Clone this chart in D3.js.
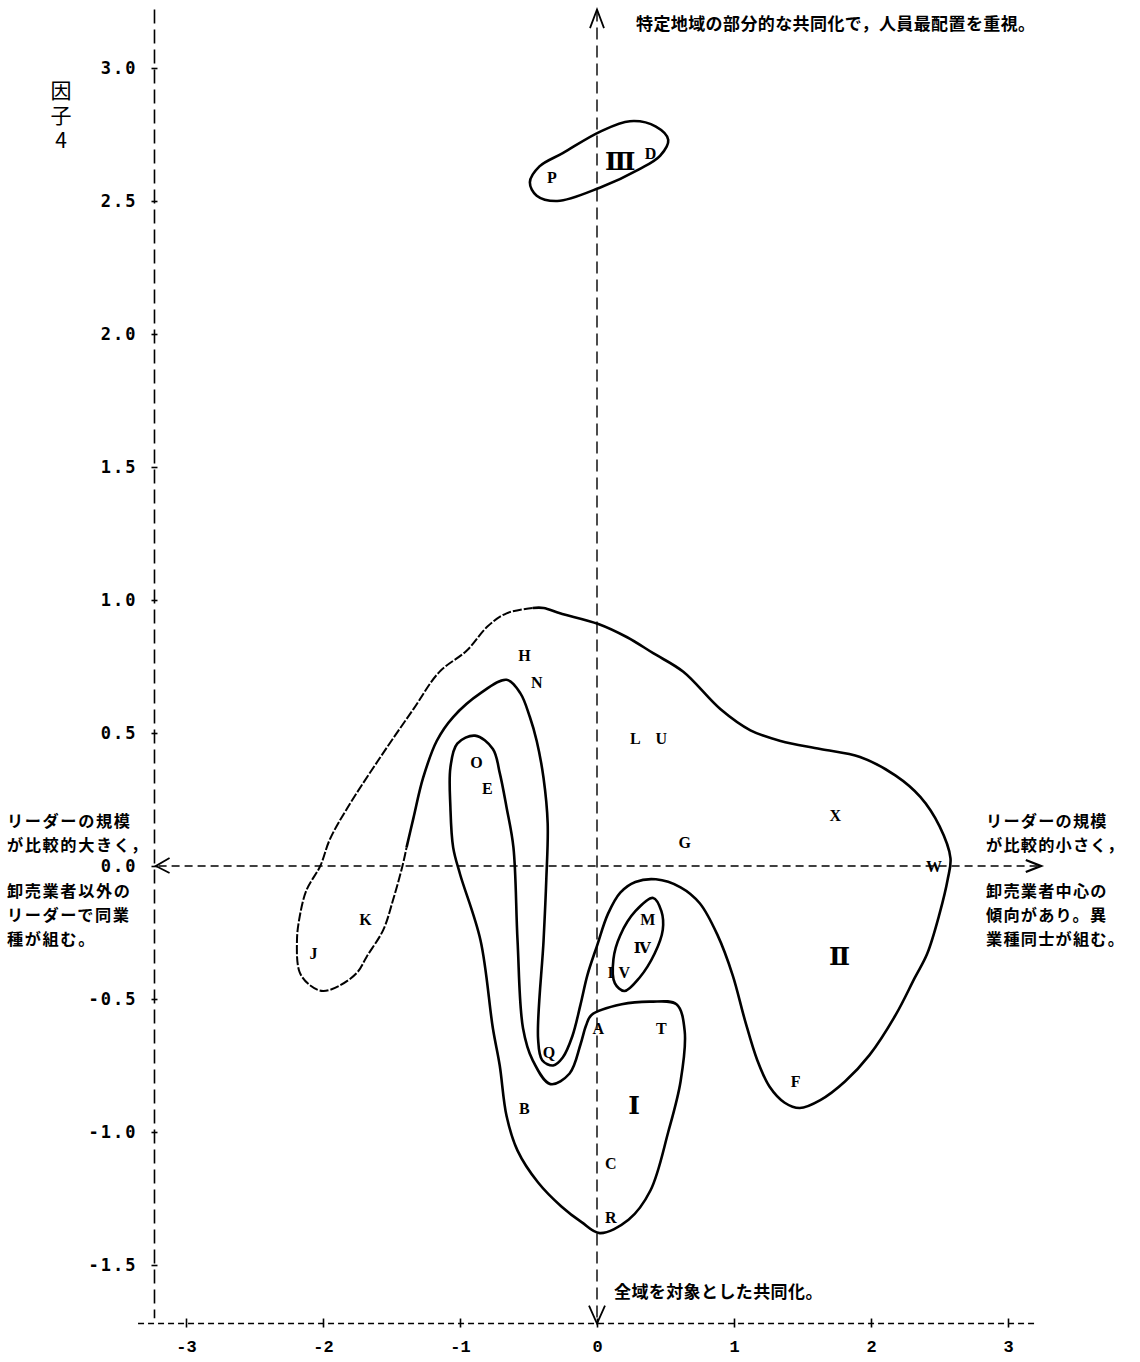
<!DOCTYPE html>
<html>
<head>
<meta charset="utf-8">
<script src="https://cdn.jsdelivr.net/npm/d3@7"></script>
<style>
  body { margin: 0; background: #fff; }
</style>
</head>
<body>
<script>
// tick values
let xTicks = [-3, -2, -1, 0, 1, 2, 3];
let yTicks = [-1.5, -1.0, -0.5, 0.0, 0.5, 1.0, 1.5, 2.0, 2.5, 3.0];

// scored firms (factor 1 score on x, factor 4 score on y)
let pointLabels = ["P","D","H","N","L","U","O","E","X","G","W","K","M","I","V","J","A","T","Q","F","B","C","R"];
let pointX = [-0.33, 0.39, -0.53, -0.44, 0.28, 0.47, -0.88, -0.80, 1.74, 0.64, 2.46, -1.69, 0.37, 0.10, 0.20, -2.07, 0.01, 0.47, -0.35, 1.45, -0.53, 0.10, 0.10];
let pointY = [2.59, 2.68, 0.79, 0.69, 0.48, 0.48, 0.39, 0.29, 0.19, 0.09, 0.00, -0.20, -0.20, -0.40, -0.40, -0.33, -0.61, -0.61, -0.70, -0.81, -0.91, -1.12, -1.32];

// cluster names and where they sit
let groupNames = ["Ⅰ", "Ⅱ", "Ⅲ", "Ⅳ"];
let groupX = [0.27, 1.77, 0.17, 0.33];
let groupY = [-0.90, -0.34, 2.65, -0.31];

// hand drawn cluster outlines
let group3 = [[-0.49,2.57],[-0.44,2.52],[-0.29,2.50],[0.02,2.55],[0.31,2.62],[0.46,2.67],[0.52,2.73],[0.43,2.78],[0.24,2.80],[0.02,2.76],[-0.25,2.68],[-0.42,2.63]];
let group4 = [[0.41,-0.12],[0.47,-0.17],[0.48,-0.24],[0.42,-0.33],[0.31,-0.42],[0.20,-0.47],[0.13,-0.44],[0.12,-0.35],[0.17,-0.26],[0.28,-0.17]];
let group1 = [[-0.89,0.49],[-0.76,0.44],[-0.71,0.35],[-0.66,0.22],[-0.61,0.07],[-0.58,-0.28],[-0.54,-0.61],[-0.47,-0.73],[-0.34,-0.82],[-0.20,-0.78],[-0.12,-0.67],[-0.08,-0.60],[-0.04,-0.56],[0.18,-0.52],[0.39,-0.51],[0.58,-0.52],[0.64,-0.62],[0.61,-0.81],[0.52,-1.00],[0.39,-1.22],[0.23,-1.33],[0.02,-1.38],[-0.11,-1.34],[-0.26,-1.28],[-0.43,-1.19],[-0.58,-1.07],[-0.66,-0.94],[-0.71,-0.75],[-0.76,-0.61],[-0.85,-0.28],[-1.00,-0.03],[-1.05,0.07],[-1.07,0.22],[-1.07,0.37],[-1.02,0.46]];
let group2Solid = [[-1.39,0.07],[-1.34,0.18],[-1.27,0.33],[-1.17,0.47],[-1.05,0.56],[-0.85,0.65],[-0.66,0.70],[-0.56,0.65],[-0.49,0.56],[-0.44,0.47],[-0.39,0.33],[-0.36,0.16],[-0.37,-0.05],[-0.39,-0.28],[-0.43,-0.65],[-0.40,-0.73],[-0.32,-0.75],[-0.25,-0.72],[-0.18,-0.64],[-0.12,-0.52],[-0.07,-0.41],[0.00,-0.30],[0.08,-0.18],[0.17,-0.10],[0.28,-0.06],[0.43,-0.05],[0.61,-0.08],[0.75,-0.14],[0.88,-0.26],[0.99,-0.41],[1.08,-0.58],[1.17,-0.73],[1.26,-0.83],[1.37,-0.89],[1.48,-0.91],[1.63,-0.88],[1.81,-0.81],[1.99,-0.71],[2.18,-0.56],[2.32,-0.42],[2.41,-0.33],[2.50,-0.18],[2.56,-0.05],[2.58,0.03],[2.50,0.15],[2.36,0.26],[2.18,0.34],[1.92,0.41],[1.63,0.44],[1.34,0.47],[1.12,0.51],[0.90,0.59],[0.63,0.73],[0.41,0.80],[0.22,0.86],[0.01,0.91],[-0.27,0.95],[-0.39,0.97],[-0.47,0.97]];
let group2Dashed = [[-0.47,0.97],[-0.66,0.95],[-0.80,0.90],[-0.95,0.81],[-1.15,0.73],[-1.34,0.59],[-1.58,0.41],[-1.82,0.22],[-1.95,0.10],[-2.02,0.00],[-2.12,-0.09],[-2.17,-0.19],[-2.19,-0.28],[-2.17,-0.40],[-2.09,-0.45],[-2.00,-0.47],[-1.88,-0.45],[-1.75,-0.40],[-1.68,-0.34],[-1.56,-0.24],[-1.49,-0.13],[-1.42,0.00],[-1.39,0.07]];

// notes
let yTitle = "因子4";
let topNote = "特定地域の部分的な共同化で，人員最配置を重視。";
let bottomNote = "全域を対象とした共同化。";
let leftNoteUp = ["リーダーの規模", "が比較的大きく，"];
let leftNoteDown = ["卸売業者以外の", "リーダーで同業", "種が組む。"];
let rightNoteUp = ["リーダーの規模", "が比較的小さく，"];
let rightNoteDown = ["卸売業者中心の", "傾向があり。異", "業種同士が組む。"];

let jpFont = "'Noto Sans CJK JP', sans-serif";

let x = d3.scaleLinear().domain([-3, 3]).range([186, 1008]);
let y = d3.scaleLinear().domain([-1.5, 3]).range([1265, 68]);

let svg = d3.select("body").append("svg")
      .attr("width", 1140)
      .attr("height", 1362);

// left axis
let leftX = x(-3.23);
svg.append("line")
      .attr("x1", leftX).attr("x2", leftX)
      .attr("y1", y(3.22)).attr("y2", y(-1.7))
      .attr("stroke", "#000")
      .attr("stroke-width", 1.6)
      .attr("stroke-dasharray", "14,6");

let yAxis = d3.axisLeft(y)
      .tickValues(yTicks)
      .tickFormat(d => d.toFixed(1))
      .tickSize(0)
      .tickPadding(17);

svg.append("g")
      .attr("class", "y axis")
      .attr("transform", "translate(" + leftX + ",0)")
      .call(yAxis)
      .call(g => g.select(".domain").remove())
      .call(g => g.selectAll(".tick line")
            .attr("x1", -3).attr("x2", 3)
            .attr("stroke", "#000").attr("stroke-width", 1.6))
      .call(g => g.selectAll(".tick text")
            .attr("fill", "#000")
            .attr("font-family", "'DejaVu Sans Mono', monospace")
            .attr("font-size", 17)
            .attr("font-weight", "bold")
            .attr("letter-spacing", 2));

// bottom axis
let bottomY = y(-1.72);
svg.append("line")
      .attr("x1", x(-3.35)).attr("x2", x(3.2))
      .attr("y1", bottomY).attr("y2", bottomY)
      .attr("stroke", "#000")
      .attr("stroke-width", 1.4)
      .attr("stroke-dasharray", "6,4");

let xAxis = d3.axisBottom(x)
      .tickValues(xTicks)
      .tickFormat(d => String(d))
      .tickSize(0)
      .tickPadding(16);

svg.append("g")
      .attr("class", "x axis")
      .attr("transform", "translate(0," + bottomY + ")")
      .call(xAxis)
      .call(g => g.select(".domain").remove())
      .call(g => g.selectAll(".tick line")
            .attr("y1", -5).attr("y2", 4)
            .attr("stroke", "#000").attr("stroke-width", 1.6))
      .call(g => g.selectAll(".tick text")
            .attr("fill", "#000")
            .attr("font-family", "'Liberation Mono', monospace")
            .attr("font-size", 17)
            .attr("font-weight", "bold"));

// zero lines
svg.append("line")
      .attr("x1", x(-3.2)).attr("x2", x(3.22))
      .attr("y1", y(0)).attr("y2", y(0))
      .attr("stroke", "#000")
      .attr("stroke-width", 1.4)
      .attr("stroke-dasharray", "8,5");

svg.append("line")
      .attr("x1", x(0)).attr("x2", x(0))
      .attr("y1", y(3.22)).attr("y2", bottomY)
      .attr("stroke", "#000")
      .attr("stroke-width", 1.4)
      .attr("stroke-dasharray", "12,6");

// arrow heads
let arrow = d3.line();
svg.append("path")
      .attr("d", arrow([[x(0) - 7, y(3.15)], [x(0), y(3.22)], [x(0) + 7, y(3.15)]]))
      .attr("fill", "none").attr("stroke", "#000").attr("stroke-width", 1.8);
svg.append("path")
      .attr("d", arrow([[x(0) - 8, bottomY - 18], [x(0), bottomY], [x(0) + 8, bottomY - 18]]))
      .attr("fill", "none").attr("stroke", "#000").attr("stroke-width", 1.8);
svg.append("path")
      .attr("d", arrow([[x(-3.12), y(0) - 8], [x(-3.22), y(0)], [x(-3.12), y(0) + 7]]))
      .attr("fill", "none").attr("stroke", "#000").attr("stroke-width", 1.8);
svg.append("path")
      .attr("d", arrow([[x(3.13), y(0) - 6], [x(3.24), y(0)], [x(3.13), y(0) + 6]]))
      .attr("fill", "none").attr("stroke", "#000").attr("stroke-width", 2.4);

// cluster outlines
let closed = d3.line()
      .x(d => x(d[0])).y(d => y(d[1]))
      .curve(d3.curveCatmullRomClosed.alpha(0.5));
let open = d3.line()
      .x(d => x(d[0])).y(d => y(d[1]))
      .curve(d3.curveCatmullRom.alpha(0.5));

[group1, group3, group4].forEach(g => {
  svg.append("path")
        .attr("d", closed(g))
        .attr("fill", "none")
        .attr("stroke", "#000")
        .attr("stroke-width", 2.6)
        .attr("stroke-linejoin", "round");
});

svg.append("path")
      .attr("d", open(group2Solid))
      .attr("fill", "none")
      .attr("stroke", "#000")
      .attr("stroke-width", 2.6)
      .attr("stroke-linejoin", "round");

svg.append("path")
      .attr("d", open(group2Dashed))
      .attr("fill", "none")
      .attr("stroke", "#000")
      .attr("stroke-width", 2)
      .attr("stroke-dasharray", "9,2");

// firm letters
svg.selectAll("text.firm")
      .data(pointLabels)
      .enter().append("text")
                .attr("class", "firm")
                .attr("x", (d, i) => x(pointX[i]))
                .attr("y", (d, i) => y(pointY[i]))
                .attr("text-anchor", "middle")
                .attr("dominant-baseline", "central")
                .attr("font-family", "'Liberation Serif', serif")
                .attr("font-weight", "bold")
                .attr("font-size", 16)
                .text(d => d);

// cluster numerals
svg.selectAll("text.group")
      .data(groupNames)
      .enter().append("text")
                .attr("class", "group")
                .attr("x", (d, i) => x(groupX[i]))
                .attr("y", (d, i) => y(groupY[i]))
                .attr("text-anchor", "middle")
                .attr("dominant-baseline", "central")
                .attr("font-family", "'DejaVu Serif', serif")
                .attr("font-weight", "bold")
                .attr("font-size", (d, i) => i == 3 ? 15 : 25)
                .text(d => d);

// y title, written top to bottom
svg.append("text")
      .attr("x", 61)
      .attr("y", 80)
      .attr("font-family", jpFont)
      .attr("font-size", 21)
      .attr("letter-spacing", 4)
      .style("writing-mode", "vertical-rl")
      .style("text-orientation", "upright")
      .text(yTitle);

// notes at the arrow ends
svg.append("text")
      .attr("x", 636).attr("y", 22)
      .attr("dominant-baseline", "central")
      .attr("font-family", jpFont).attr("font-weight", "bold").attr("font-size", 17)
      .attr("letter-spacing", 0.4)
      .text(topNote);

svg.append("text")
      .attr("x", 614).attr("y", 1290)
      .attr("dominant-baseline", "central")
      .attr("font-family", jpFont).attr("font-weight", "bold").attr("font-size", 17)
      .attr("letter-spacing", 0.4)
      .text(bottomNote);

function noteBlock(lines, x0, y0, spacing) {
  svg.append("g").selectAll("text")
        .data(lines)
        .enter().append("text")
                  .attr("x", x0)
                  .attr("y", (d, i) => y0 + i * 24)
                  .attr("dominant-baseline", "central")
                  .attr("font-family", jpFont)
                  .attr("font-weight", "bold")
                  .attr("font-size", 16.2)
                  .attr("letter-spacing", spacing)
                  .text(d => d);
}

noteBlock(leftNoteUp, 7, y(0) - 46, 1.6);
noteBlock(leftNoteDown, 7, y(0) + 24, 1.6);
noteBlock(rightNoteUp, 986, y(0) - 46, 1.2);
noteBlock(rightNoteDown, 986, y(0) + 24, 1.2);
</script>
</body>
</html>
